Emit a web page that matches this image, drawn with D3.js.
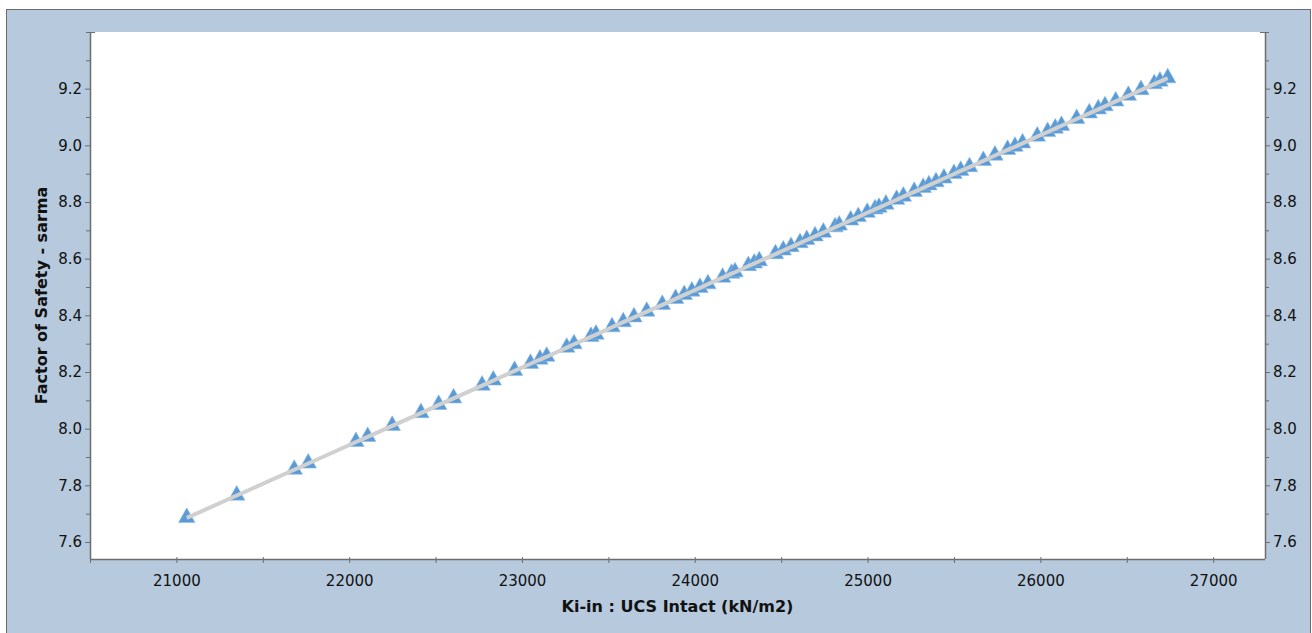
<!DOCTYPE html>
<html>
<head>
<meta charset="utf-8">
<script src="https://cdn.jsdelivr.net/npm/d3@7"></script>
<style>
html,body{margin:0;padding:0;background:#fff;}
svg{display:block;font-family:"DejaVu Sans",Verdana,sans-serif;}
</style>
</head>
<body>
<svg id="chart" width="1312" height="633"></svg>
<script>
const ucsValues = [21060,21349,21682,21763,22039,22107,22249,22415,22518,22604,22769,22834,22957,23049,23104,23143,23259,23301,23399,23428,23521,23586,23648,23722,23812,23889,23939,23983,24030,24076,24161,24213,24233,24310,24344,24373,24467,24512,24557,24609,24648,24696,24744,24812,24836,24902,24946,24998,25043,25066,25106,25168,25207,25270,25322,25355,25396,25442,25500,25539,25590,25670,25737,25810,25853,25897,25982,26042,26086,26122,26210,26283,26335,26374,26436,26509,26582,26659,26692,26737];
const fosValues = [7.685,7.764,7.855,7.877,7.953,7.971,8.010,8.055,8.084,8.107,8.152,8.170,8.204,8.229,8.244,8.254,8.286,8.298,8.324,8.332,8.358,8.376,8.393,8.413,8.437,8.458,8.472,8.484,8.497,8.510,8.533,8.547,8.552,8.574,8.583,8.591,8.616,8.629,8.641,8.655,8.666,8.679,8.692,8.711,8.717,8.735,8.747,8.762,8.774,8.780,8.791,8.808,8.819,8.836,8.850,8.859,8.870,8.883,8.899,8.910,8.923,8.945,8.964,8.984,8.995,9.007,9.031,9.047,9.059,9.069,9.093,9.113,9.127,9.138,9.155,9.175,9.195,9.216,9.225,9.237];
const xMajorTicks = [21000,22000,23000,24000,25000,26000,27000];
const xMinorTicks = [20500,21500,22500,23500,24500,25500,26500];
const yMajorTicks = [7.6,7.8,8.0,8.2,8.4,8.6,8.8,9.0,9.2];
const yMinorTicks = [7.7,7.9,8.1,8.3,8.5,8.7,8.9,9.1,9.3,9.4];
const xTitle = "Ki-in : UCS Intact (kN/m2)";
const yTitle = "Factor of Safety - sarma";

const data = ucsValues.map((x,i)=>({x, y: fosValues[i]}));

const svg = d3.select("#chart");
const L = 90, R = 1265, T = 32, B = 559;

svg.append("rect").attr("x",6.5).attr("y",9.5).attr("width",1304).attr("height",630)
  .attr("fill","#b6c9dd").attr("stroke","#6b6b6b").attr("stroke-width",1);
svg.append("rect").attr("x",L).attr("y",T).attr("width",R-L).attr("height",B-T).attr("fill","#fff");

const x = d3.scaleLinear().domain([20500,27300]).range([L,R]);
const y = d3.scaleLinear().domain([7.54,9.4]).range([B,T]);

const axisColor = "#6e6e6e";
const fmtY = d3.format(".1f");

// bottom axis
const gx = svg.append("g").attr("transform",`translate(0,${B})`);
gx.call(d3.axisBottom(x).tickValues(xMajorTicks).tickSize(4).tickPadding(12).tickFormat(d3.format("d")));
const gxm = svg.append("g").attr("transform",`translate(0,${B})`);
gxm.call(d3.axisBottom(x).tickValues(xMinorTicks).tickSize(4).tickFormat(""));
[gx,gxm].forEach(g=>{
  g.select(".domain").remove();
  g.selectAll(".tick line").attr("stroke",axisColor).attr("y1",-2);
});
gx.selectAll(".tick text").attr("font-size",15).attr("fill","#111").attr("font-family","DejaVu Sans, Verdana, sans-serif");

// left axis
const gy = svg.append("g").attr("transform",`translate(${L},0)`);
gy.call(d3.axisLeft(y).tickValues(yMajorTicks).tickSize(5).tickPadding(3).tickFormat(fmtY));
const gym = svg.append("g").attr("transform",`translate(${L},0)`);
gym.call(d3.axisLeft(y).tickValues(yMinorTicks).tickSize(4).tickFormat(""));
// right axis
const gr = svg.append("g").attr("transform",`translate(${R},0)`);
gr.call(d3.axisRight(y).tickValues(yMajorTicks).tickSize(5).tickPadding(3).tickFormat(fmtY));
const grm = svg.append("g").attr("transform",`translate(${R},0)`);
grm.call(d3.axisRight(y).tickValues(yMinorTicks).tickSize(4).tickFormat(""));
[gy,gym,gr,grm].forEach(g=>{
  g.select(".domain").remove();
  g.selectAll(".tick line").attr("stroke",axisColor);
  g.selectAll(".tick text").attr("font-size",15).attr("fill","#111").attr("font-family","DejaVu Sans, Verdana, sans-serif");
});

// axis lines
svg.append("line").attr("x1",L).attr("x2",R).attr("y1",B+0.5).attr("y2",B+0.5).attr("stroke",axisColor).attr("stroke-width",1.5);
svg.append("line").attr("x1",L+0.5).attr("x2",L+0.5).attr("y1",T).attr("y2",B).attr("stroke",axisColor).attr("stroke-width",1.5);
svg.append("line").attr("x1",R+0.5).attr("x2",R+0.5).attr("y1",T).attr("y2",B).attr("stroke",axisColor).attr("stroke-width",1.5);
// top end caps
svg.append("line").attr("x1",L-4).attr("x2",L+5).attr("y1",T+0.5).attr("y2",T+0.5).attr("stroke",axisColor);
svg.append("line").attr("x1",R-5).attr("x2",R+4).attr("y1",T+0.5).attr("y2",T+0.5).attr("stroke",axisColor);

// points
const tri = "M0,-10L8.2,4.6L-8.2,4.6Z";
svg.append("g").selectAll("path").data(data).join("path")
  .attr("d",tri)
  .attr("transform",d=>`translate(${x(d.x)},${y(d.y)})`)
  .attr("fill","#5b9bd5")
  .attr("stroke","#8fbbe6").attr("stroke-width",0.6);

// line
svg.append("path").datum(data)
  .attr("d",d3.line().x(d=>x(d.x)).y(d=>y(d.y)))
  .attr("fill","none").attr("stroke","#d0d0d0").attr("stroke-width",4).attr("stroke-linecap","butt");

// titles
svg.append("text").attr("x",(L+R)/2).attr("y",612).attr("text-anchor","middle")
  .attr("font-size",16).attr("font-weight","bold").attr("fill","#111").text(xTitle);
svg.append("text").attr("transform",`translate(47,${(T+B)/2}) rotate(-90)`).attr("text-anchor","middle")
  .attr("font-size",16).attr("font-weight","bold").attr("fill","#111").text(yTitle);
</script>
</body>
</html>
